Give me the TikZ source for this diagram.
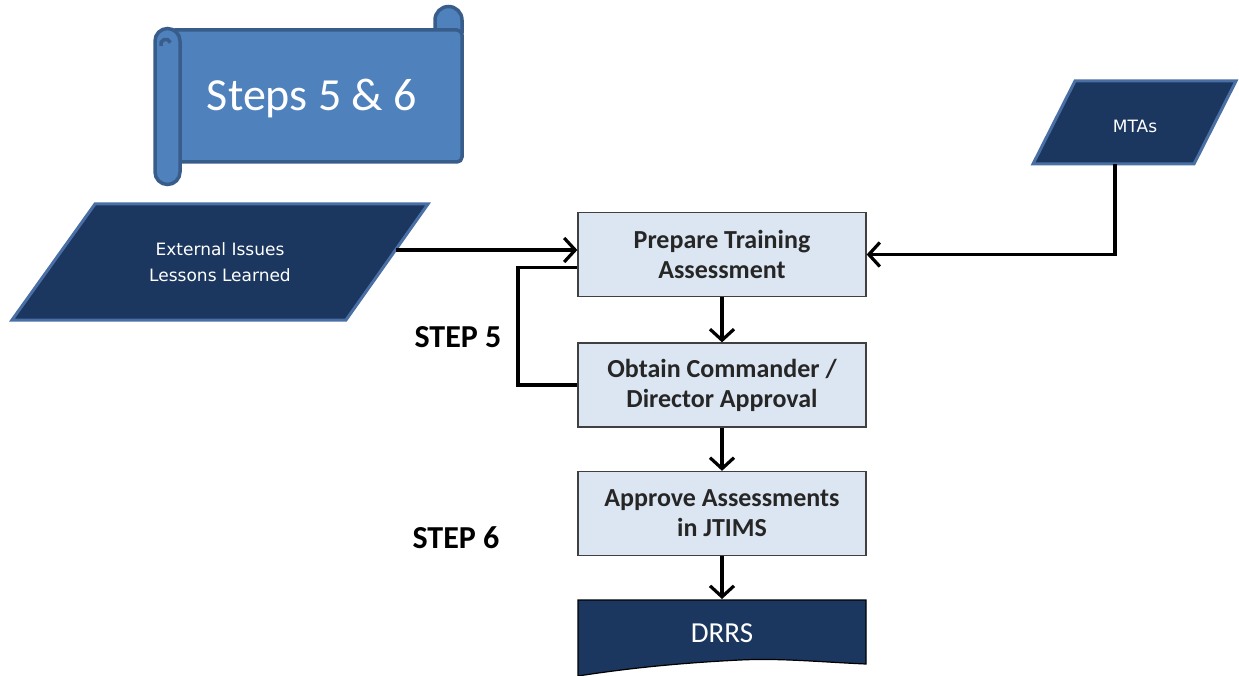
\documentclass[tikz,border=0pt]{standalone}
\usepackage{fontspec}
\setmainfont{Carlito}
\newfontfamily\dejavu{DejaVu Sans}
\usetikzlibrary{arrows.meta}
\definecolor{scrollfill}{HTML}{4F81BD}
\definecolor{scrolledge}{HTML}{385D8A}
\definecolor{navy}{HTML}{1B365F}
\definecolor{navyedge}{HTML}{4A6FA5}
\definecolor{boxfill}{HTML}{DCE6F2}
\definecolor{boxedge}{HTML}{404040}
\definecolor{boxtext}{HTML}{262626}
\tikzset{
  stepbox/.style={draw=boxedge, line width=1.3pt, fill=boxfill, minimum width=288pt, minimum height=84pt, text=boxtext, align=center, font=\fontsize{26}{30}\selectfont\bfseries, inner sep=0pt},
  navyshape/.style={fill=navy, draw=navyedge, line width=3pt, line join=miter},
  navytext/.style={text=white, align=center, font=\dejavu\fontsize{17}{25.5}\selectfont},
  conn/.style={line width=3.2pt, -{Straight Barb[length=11pt,width=24pt,line width=3.2pt]}},
  loopline/.style={line width=3.2pt},
  steplabel/.style={font=\fontsize{32}{34}\selectfont\bfseries, text=black},
}
\begin{document}
\begin{tikzpicture}[x=1pt,y=-1pt]
\useasboundingbox (0,0) rectangle (1239,676);
% scroll
\begin{scope}[fill=scrollfill, draw=scrolledge, line width=3.5pt]
  \filldraw (435,32) -- (435,20) arc[start angle=180, end angle=360, radius=13.5] -- (462,32) -- cycle;
  \filldraw[rounded corners=5pt] (170,30) rectangle (462,162);
  \filldraw (155,41) arc[start angle=180, end angle=360, radius=12.5] -- (180,172) arc[start angle=0, end angle=180, radius=12.5] -- cycle;
  \draw (161,46) arc[start angle=160, end angle=340, radius=5];
\end{scope}
\node[text=white, font=\fontsize{46}{50}\selectfont] (title) at (312,98) {Steps 5 \& 6};
% External issues parallelogram
\filldraw[navyshape] (95,204) -- (428,204) -- (346,320) -- (12,320) -- cycle;
\node[navytext] (ext) at (220,262) {External Issues\\Lessons Learned};
\coordinate (extR) at (396,250);
% MTAs parallelogram
\filldraw[navyshape] (1075,81) -- (1236,81) -- (1194,164) -- (1033,164) -- cycle;
\node[navytext, font=\dejavu\fontsize{17}{20}\selectfont] (mta) at (1135,126) {MTAs};
\coordinate (mtaB) at (1115,164);
% boxes
\node[stepbox] (prep) at (722,254.5) {Prepare Training\\Assessment};
\node[stepbox] (obt) at (722,385) {Obtain Commander /\\Director Approval};
\node[stepbox] (appr) at (722,513.5) {Approve Assessments\\in JTIMS};
% DRRS document shape
\filldraw[fill=navy, draw=black, line width=1.2pt] (578,600) -- (866,600) -- (866,664) .. controls (820,662) and (780,658) .. (740,660) .. controls (680,663) and (630,668) .. (578,676) -- cycle;
\node[text=white, font=\fontsize{29}{32}\selectfont] (drrs) at (722,633) {DRRS};
\coordinate (drrsT) at (722,599);
% connectors
\draw[conn] (extR) -- (extR -| prep.west);
\draw[conn] (mtaB) |- (prep.east);
\draw[conn] (prep.south) -- (obt.north);
\draw[conn] (obt.south) -- (appr.north);
\draw[conn] (appr.south) -- (drrsT);
\coordinate (loopA) at ([yshift=-13pt]prep.west);
\draw[loopline] (loopA) -- (518,267.5) |- (obt.west);
% labels
\node[steplabel] (s5) at (458,337) {STEP 5};
\node[steplabel] (s6) at (456,538) {STEP 6};
\end{tikzpicture}
\end{document}
